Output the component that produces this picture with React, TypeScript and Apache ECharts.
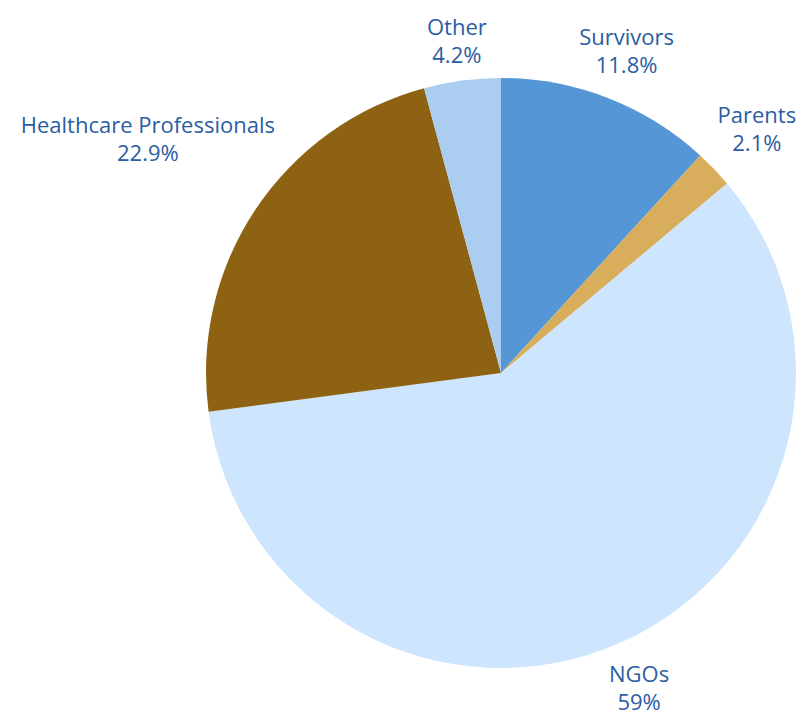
import React, { useEffect, useRef } from "react";
import * as echarts from "echarts";

const categories = ["Survivors", "Parents", "NGOs", "Healthcare Professionals", "Other"];
const values = [11.8, 2.1, 59, 22.9, 4.2];
const colors = ["#5596d6", "#d8ae5c", "#cde5fd", "#8d6212", "#abcdef"];

const CENTER_X = 501;
const CENTER_Y = 373;
const RADIUS = 295;
const CLEARANCE = 310;

export default function App() {
  const ref = useRef<HTMLDivElement>(null);
  useEffect(() => {
    document.body.style.margin = "0";
    if (!ref.current) return;
    const chart = echarts.init(ref.current, undefined, { renderer: "svg" });
    const total = values.reduce((a, b) => a + b, 0);
    const midAngles: number[] = [];
    let acc = 0;
    values.forEach((v) => {
      midAngles.push(((acc + v / 2) / total) * Math.PI * 2);
      acc += v;
    });
    chart.setOption({
      animation: false,
      backgroundColor: "#ffffff",
      series: [
        {
          type: "pie",
          center: [CENTER_X, CENTER_Y],
          radius: RADIUS,
          startAngle: 90,
          clockwise: true,
          avoidLabelOverlap: false,
          data: categories.map((name, i) => ({
            name,
            value: values[i],
            itemStyle: { color: colors[i] },
          })),
          label: {
            show: true,
            position: "outside",
            formatter: (p: any) => `${p.name}\n${p.value}%`,
            color: "#2b5da3",
            fontSize: 22,
            lineHeight: 28,
            fontFamily: "'Open Sans', sans-serif",
            align: "center",
            overflow: "none",
          },
          labelLine: { show: false },
          labelLayout: (params: any) => {
            const a = midAngles[params.dataIndex];
            const ux = Math.sin(a);
            const uy = -Math.cos(a);
            const hw = params.labelRect.width / 2;
            const hh = params.labelRect.height / 2 - 5;
            let lo = 0;
            let hi = 1000;
            for (let k = 0; k < 50; k++) {
              const d = (lo + hi) / 2;
              const bx = Math.abs(d * ux);
              const by = Math.abs(d * uy);
              const ex = Math.max(0, bx - hw);
              const ey = Math.max(0, by - hh);
              const dist = Math.sqrt(ex * ex + ey * ey);
              if (dist < CLEARANCE) lo = d;
              else hi = d;
            }
            return {
              x: CENTER_X + lo * ux,
              y: CENTER_Y + lo * uy,
              align: "center",
              verticalAlign: "middle",
            };
          },
        },
      ],
    });
    return () => chart.dispose();
  }, []);
  return <div ref={ref} style={{ width: 798, height: 717 }} />;
}
